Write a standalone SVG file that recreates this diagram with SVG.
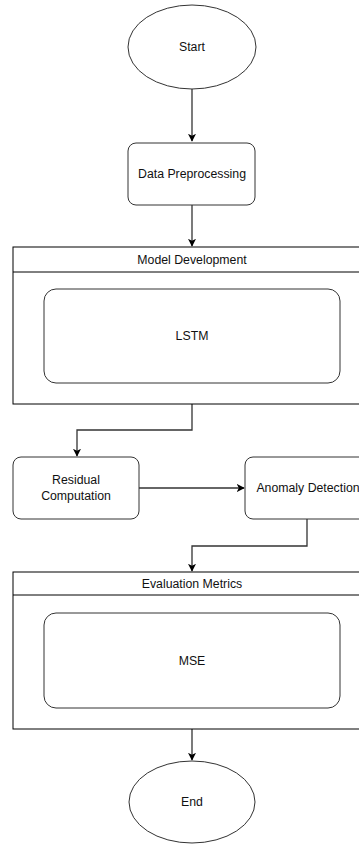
<svg xmlns="http://www.w3.org/2000/svg" width="359" height="844" viewBox="0 0 359 844">
<defs>
<marker id="ah" viewBox="0 0 10 10" refX="9" refY="5" markerWidth="8" markerHeight="8" markerUnits="userSpaceOnUse" orient="auto">
<path d="M0,0 L10,5 L0,10 L2.5,5 Z" fill="#000"/>
</marker>
<style>
.s{fill:#fff;stroke:#000;stroke-width:1}
.r{fill:#fff;stroke:#333;stroke-width:1}
.t{font-family:"Liberation Sans",Arial,sans-serif;font-size:12.3px;fill:#111;text-anchor:middle;dominant-baseline:central}
.c{fill:none;stroke:#333;stroke-width:1.3}
</style>
</defs>
<rect width="359" height="844" fill="#fff"/>
<g id="connectors">
<path class="c" d="M192,89 V141" marker-end="url(#ah)"/>
<path class="c" d="M192,205 V246" marker-end="url(#ah)"/>
<path class="c" d="M192,404 V430 H77 V456" marker-end="url(#ah)"/>
<path class="c" d="M139,488 H244" marker-end="url(#ah)"/>
<path class="c" d="M307,519 V546 H192 V571" marker-end="url(#ah)"/>
<path class="c" d="M192,729 V760" marker-end="url(#ah)"/>
</g>
<g id="start">
<ellipse class="r" cx="192" cy="47" rx="64" ry="42"/>
<text class="t" x="192" y="47">Start</text>
</g>
<g id="preprocessing">
<rect class="r" x="128" y="143" width="127" height="62" rx="8"/>
<text class="t" x="192" y="174">Data Preprocessing</text>
</g>
<g id="model-development">
<rect class="s" x="13" y="247" width="358" height="157"/>
<line class="s" x1="13" y1="272" x2="371" y2="272"/>
<text class="t" x="192" y="260">Model Development</text>
</g>
<g id="lstm">
<rect class="r" x="44" y="289" width="296" height="94" rx="12"/>
<text class="t" x="192" y="336">LSTM</text>
</g>
<g id="residual">
<rect class="r" x="13" y="457" width="126" height="62" rx="8"/>
<text class="t" x="76" y="480">Residual</text>
<text class="t" x="76" y="496">Computation</text>
</g>
<g id="anomaly">
<rect class="r" x="245" y="457" width="126" height="62" rx="8"/>
<text class="t" x="308" y="488">Anomaly Detection</text>
</g>
<g id="evaluation-metrics">
<rect class="s" x="13" y="572" width="358" height="157"/>
<line class="s" x1="13" y1="595" x2="371" y2="595"/>
<text class="t" x="192" y="584">Evaluation Metrics</text>
</g>
<g id="mse">
<rect class="r" x="44" y="613" width="296" height="95" rx="12"/>
<text class="t" x="192" y="661">MSE</text>
</g>
<g id="end">
<ellipse class="r" cx="192" cy="802" rx="63" ry="41"/>
<text class="t" x="192" y="802">End</text>
</g>
</svg>
